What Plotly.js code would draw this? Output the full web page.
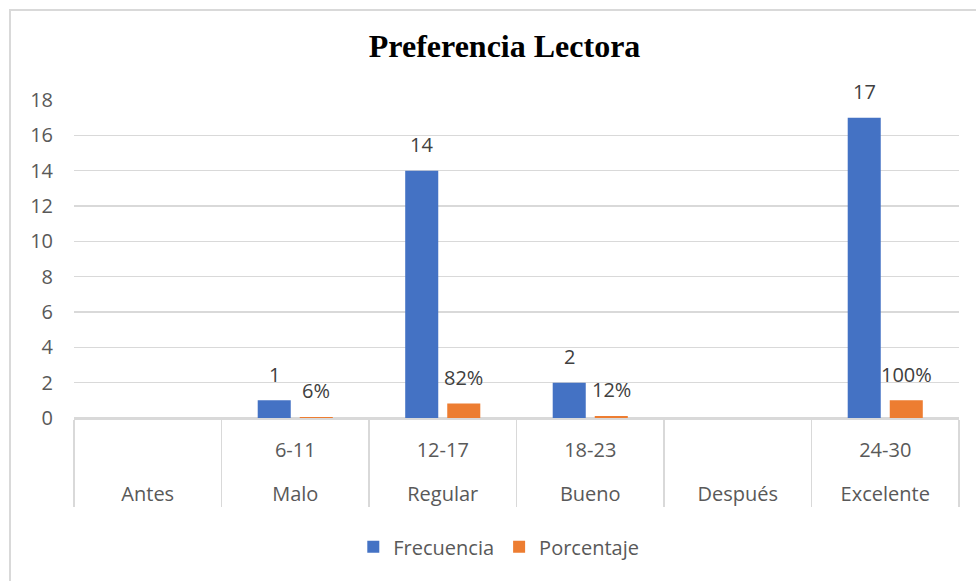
<!DOCTYPE html>
<html>
<head>
<meta charset="utf-8">
<script src="https://cdn.plot.ly/plotly-3.0.1.min.js"></script>
<style>
  html, body { margin: 0; padding: 0; background: #fff; }
  #wrap { position: relative; width: 976px; height: 581px; overflow: hidden; }
  #chart { position: absolute; left: 0; top: 0; width: 976px; height: 581px; }
  #frame { position: absolute; left: 9px; top: 9px; width: 1200px; height: 800px;
           border-left: 2px solid #d9d9d9; border-top: 2px solid #d9d9d9; pointer-events: none; }
</style>
</head>
<body>
<div id="wrap">
  <div id="chart"></div>
  <div id="frame"></div>
</div>
<script>
// ---- data ----
const outerLabels = ['Antes', 'Malo', 'Regular', 'Bueno', 'Después', 'Excelente'];
const innerLabels = ['', '6-11', '12-17', '18-23', '', '24-30'];
const frecuencia = [null, 1, 14, 2, null, 17];
const porcentaje = [null, 0.06, 0.82, 0.12, null, 1.00];
const yTicks = [0, 2, 4, 6, 8, 10, 12, 14, 16, 18];

// ---- build ----
// inner labels get an extra blank line so the outer row sits lower (as in the original)
const inner = innerLabels.map(s => (s === '' ? '\u00a0' : s) + '<br><span style="font-size:26px">\u00a0</span>');
const xCats = [outerLabels, inner];
const labelColor = '#595959';
const baseFont = 'Open Sans, Lato, sans-serif';

const traces = [
  {
    type: 'bar', name: 'Frecuencia', x: xCats, y: frecuencia,
    marker: { color: '#4472C4' }, hoverinfo: 'skip'
  },
  {
    type: 'bar', name: 'Porcentaje', x: xCats, y: porcentaje,
    marker: { color: '#ED7D31' }, hoverinfo: 'skip'
  }
];

const annotations = [];
frecuencia.forEach((v, i) => {
  if (v === null) return;
  annotations.push({ x: i, y: v, xref: 'x', yref: 'y', text: String(v), showarrow: false,
    xshift: -21, yshift: 26, yanchor: 'middle',
    font: { family: baseFont, size: 20, color: '#404040' } });
});
porcentaje.forEach((v, i) => {
  if (v === null) return;
  annotations.push({ x: i, y: v, xref: 'x', yref: 'y', text: Math.round(v * 100) + '%', showarrow: false,
    xshift: 21, yshift: 26, yanchor: 'middle',
    font: { family: baseFont, size: 20, color: '#404040' } });
});

const layout = {
  width: 976, height: 581,
  paper_bgcolor: '#ffffff', plot_bgcolor: '#ffffff',
  margin: { l: 74, r: 17, t: 99.5, b: 163 },
  title: {
    text: 'Preferencia Lectora', x: 0.517, xref: 'container', y: 0.922, yref: 'container',
    xanchor: 'center', yanchor: 'middle',
    font: { family: 'Liberation Serif, Times New Roman, serif', size: 32, color: '#000000', weight: 'bold' }
  },
  barmode: 'group', bargap: 0.43, bargroupgap: 0.214,
  showlegend: true,
  legend: {
    orientation: 'h', x: 0.48, xanchor: 'center', y: -0.405, yanchor: 'middle',
    font: { family: baseFont, size: 20, color: labelColor }, itemclick: false
  },
  xaxis: {
    type: 'multicategory',
    showline: true, linecolor: '#d9d9d9', linewidth: 1.5,
    showgrid: false, zeroline: false,
    showdividers: true, dividercolor: '#d9d9d9', dividerwidth: 1.5,
    tickfont: { family: baseFont, size: 20, color: labelColor },
    ticks: '', ticklabelstandoff: 13
  },
  yaxis: {
    range: [0, 18], tickvals: yTicks, ticktext: yTicks.map(String),
    showgrid: true, gridcolor: '#d9d9d9', gridwidth: 1.5,
    zeroline: true, zerolinecolor: '#d9d9d9', zerolinewidth: 1.5,
    showline: false, ticks: '', ticklabelstandoff: 20,
    tickfont: { family: baseFont, size: 20, color: labelColor }
  },
  annotations: annotations
};

Plotly.newPlot('chart', traces, layout, { displayModeBar: false, staticPlot: true });
</script>
</body>
</html>
